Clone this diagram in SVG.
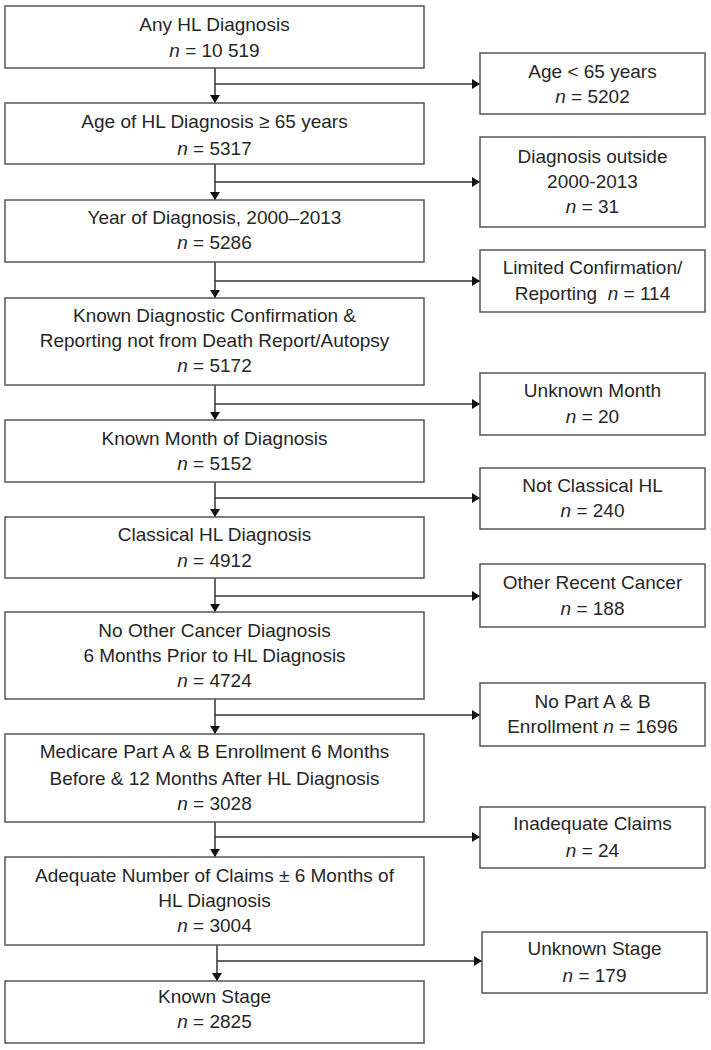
<svg xmlns="http://www.w3.org/2000/svg" width="711" height="1050" viewBox="0 0 711 1050">
<style>
.box{fill:#fff;stroke:#555;stroke-width:1.5}
text{font-family:"Liberation Sans",Arial,sans-serif;font-size:19px;fill:#262626;text-anchor:middle}
.i{font-style:italic}
.c{fill:none;stroke:#333;stroke-width:1.5}
</style>
<defs>
<marker id="ah" markerUnits="userSpaceOnUse" markerWidth="8" markerHeight="10" refX="8" refY="5" orient="auto" viewBox="0 0 8 10">
<path d="M0,0 L8,5 L0,10 z" fill="#111"/>
</marker>
</defs>
<rect width="711" height="1050" fill="#fff"/>
<g id="connectors">
<line class="c" x1="215" y1="68" x2="215" y2="103" marker-end="url(#ah)"/>
<line class="c" x1="215" y1="84" x2="480" y2="84" marker-end="url(#ah)"/>
<line class="c" x1="215" y1="164" x2="215" y2="200" marker-end="url(#ah)"/>
<line class="c" x1="215" y1="182" x2="480" y2="182" marker-end="url(#ah)"/>
<line class="c" x1="215" y1="262" x2="215" y2="298" marker-end="url(#ah)"/>
<line class="c" x1="215" y1="281" x2="480" y2="281" marker-end="url(#ah)"/>
<line class="c" x1="215" y1="385" x2="215" y2="420" marker-end="url(#ah)"/>
<line class="c" x1="215" y1="404" x2="480" y2="404" marker-end="url(#ah)"/>
<line class="c" x1="215" y1="482" x2="215" y2="517" marker-end="url(#ah)"/>
<line class="c" x1="215" y1="498" x2="480" y2="498" marker-end="url(#ah)"/>
<line class="c" x1="215" y1="578" x2="215" y2="612" marker-end="url(#ah)"/>
<line class="c" x1="215" y1="596" x2="480" y2="596" marker-end="url(#ah)"/>
<line class="c" x1="215" y1="699" x2="215" y2="734" marker-end="url(#ah)"/>
<line class="c" x1="215" y1="715" x2="480" y2="715" marker-end="url(#ah)"/>
<line class="c" x1="215" y1="822" x2="215" y2="857" marker-end="url(#ah)"/>
<line class="c" x1="215" y1="837" x2="480" y2="837" marker-end="url(#ah)"/>
<line class="c" x1="217" y1="945" x2="217" y2="981" marker-end="url(#ah)"/>
<line class="c" x1="217" y1="961" x2="482" y2="961" marker-end="url(#ah)"/>
</g>
<g id="n1"><rect class="box" x="5" y="6" width="419" height="62"/><text x="214.5" y="31">Any HL Diagnosis</text><text x="214.5" y="57"><tspan class="i">n</tspan> = 10 519</text></g>
<g id="n2"><rect class="box" x="5" y="103" width="419" height="61"/><text x="214.5" y="128">Age of HL Diagnosis ≥ 65 years</text><text x="214.5" y="155"><tspan class="i">n</tspan> = 5317</text></g>
<g id="n3"><rect class="box" x="5" y="200" width="419" height="62"/><text x="214.5" y="224">Year of Diagnosis, 2000–2013</text><text x="214.5" y="249"><tspan class="i">n</tspan> = 5286</text></g>
<g id="n4"><rect class="box" x="5" y="298" width="419" height="87"/><text x="214.5" y="322">Known Diagnostic Confirmation &amp;</text><text x="214.5" y="347">Reporting not from Death Report/Autopsy</text><text x="214.5" y="372"><tspan class="i">n</tspan> = 5172</text></g>
<g id="n5"><rect class="box" x="5" y="420" width="419" height="62"/><text x="214.5" y="445">Known Month of Diagnosis</text><text x="214.5" y="470"><tspan class="i">n</tspan> = 5152</text></g>
<g id="n6"><rect class="box" x="5" y="517" width="419" height="61"/><text x="214.5" y="541">Classical HL Diagnosis</text><text x="214.5" y="567"><tspan class="i">n</tspan> = 4912</text></g>
<g id="n7"><rect class="box" x="5" y="612" width="419" height="87"/><text x="214.5" y="637">No Other Cancer Diagnosis</text><text x="214.5" y="662">6 Months Prior to HL Diagnosis</text><text x="214.5" y="687"><tspan class="i">n</tspan> = 4724</text></g>
<g id="n8"><rect class="box" x="5" y="734" width="419" height="88"/><text x="214.5" y="758">Medicare Part A &amp; B Enrollment 6 Months</text><text x="214.5" y="785">Before &amp; 12 Months After HL Diagnosis</text><text x="214.5" y="810"><tspan class="i">n</tspan> = 3028</text></g>
<g id="n9"><rect class="box" x="5" y="857" width="419" height="88"/><text x="214.5" y="882">Adequate Number of Claims ± 6 Months of</text><text x="214.5" y="907">HL Diagnosis</text><text x="214.5" y="932"><tspan class="i">n</tspan> = 3004</text></g>
<g id="n10"><rect class="box" x="5" y="981" width="419" height="62"/><text x="214.5" y="1003">Known Stage</text><text x="214.5" y="1028"><tspan class="i">n</tspan> = 2825</text></g>
<g id="r1"><rect class="box" x="480" y="53" width="225" height="61"/><text x="592.5" y="78">Age &lt; 65 years</text><text x="592.5" y="103"><tspan class="i">n</tspan> = 5202</text></g>
<g id="r2"><rect class="box" x="480" y="137" width="225" height="90"/><text x="592.5" y="163">Diagnosis outside</text><text x="592.5" y="188">2000-2013</text><text x="592.5" y="213"><tspan class="i">n</tspan> = 31</text></g>
<g id="r3"><rect class="box" x="480" y="250" width="225" height="62"/><text x="592.5" y="274">Limited Confirmation/</text><text x="592.5" y="300">Reporting&#160; <tspan class="i">n</tspan> = 114</text></g>
<g id="r4"><rect class="box" x="480" y="373" width="225" height="62"/><text x="592.5" y="397">Unknown Month</text><text x="592.5" y="423"><tspan class="i">n</tspan> = 20</text></g>
<g id="r5"><rect class="box" x="480" y="468" width="225" height="61"/><text x="592.5" y="492">Not Classical HL</text><text x="592.5" y="517"><tspan class="i">n</tspan> = 240</text></g>
<g id="r6"><rect class="box" x="480" y="564" width="225" height="63"/><text x="592.5" y="589">Other Recent Cancer</text><text x="592.5" y="615"><tspan class="i">n</tspan> = 188</text></g>
<g id="r7"><rect class="box" x="480" y="683" width="225" height="63"/><text x="592.5" y="708">No Part A &amp; B</text><text x="592.5" y="733">Enrollment <tspan class="i">n</tspan> = 1696</text></g>
<g id="r8"><rect class="box" x="480" y="807" width="225" height="61"/><text x="592.5" y="830">Inadequate Claims</text><text x="592.5" y="857"><tspan class="i">n</tspan> = 24</text></g>
<g id="r9"><rect class="box" x="482" y="932" width="225" height="61"/><text x="594.5" y="955">Unknown Stage</text><text x="594.5" y="982"><tspan class="i">n</tspan> = 179</text></g>
</svg>
